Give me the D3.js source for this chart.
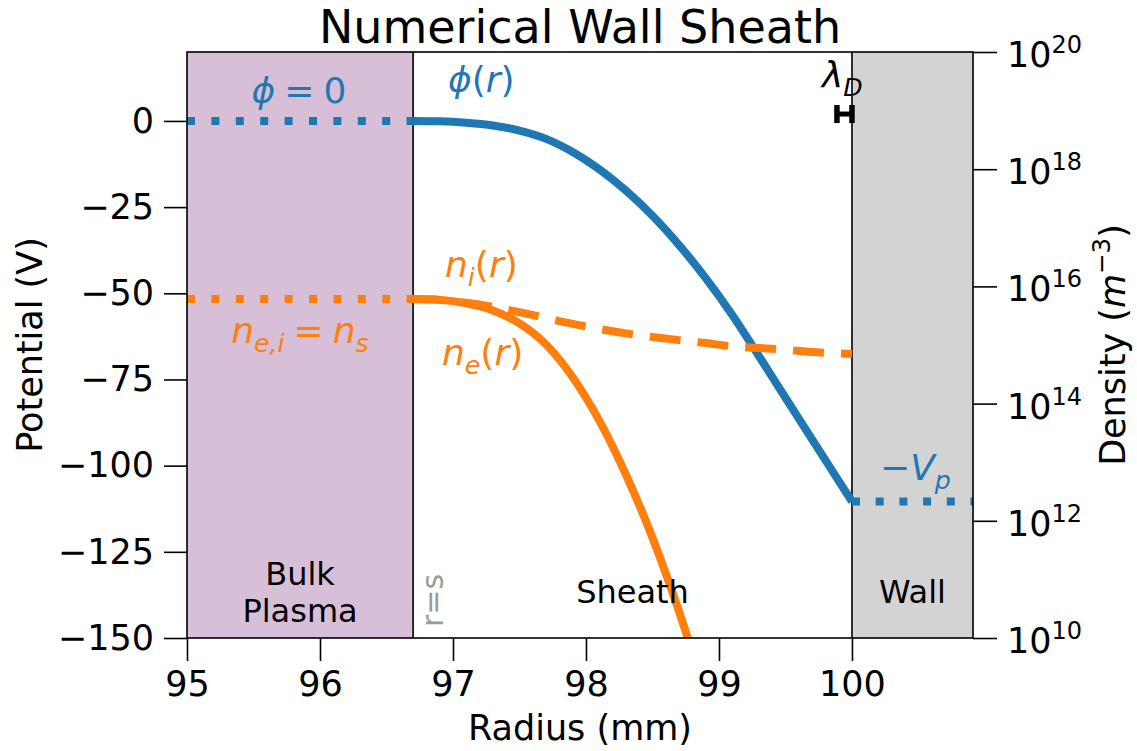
<!DOCTYPE html>
<html><head><meta charset="utf-8">
<script src="https://cdn.jsdelivr.net/npm/d3@7"></script>
<style>body{margin:0;background:#fff} text{font-family:"DejaVu Sans",sans-serif}</style>
</head><body><svg id="c" width="1137" height="751"></svg>
<script>
// ---- data ----
const radius = [96.7, 96.9, 97.1, 97.3, 97.5, 97.7, 97.9, 98.1, 98.3, 98.5, 98.7, 98.9, 99.1, 99.3, 99.5, 99.7, 99.9, 100.0];
const potential = [0, -0.1, -0.5, -1.3, -2.8, -5.2, -9.0, -14.0, -20.2, -27.5, -36.0, -45.6, -56.3, -68.2, -80.3, -92.4, -104.4, -110.4];
const ionDensity = [6.10e15, 5.89e15, 5.25e15, 4.47e15, 3.63e15, 2.88e15, 2.29e15, 1.88e15, 1.58e15, 1.37e15, 1.21e15, 1.08e15, 9.5e14, 8.9e14, 8.3e14, 7.6e14, 7.2e14, 7.0e14];
const electronDensity = [6.10e15, 5.89e15, 5.13e15, 3.89e15, 2.34e15, 1.02e15, 2.82e14, 5.13e13, 6.17e12, 5.13e11, 2.82e10, 1.07e9];
const xTicks = [95, 96, 97, 98, 99, 100];
const yTicks = [0, -25, -50, -75, -100, -125, -150];
const densityTickExponents = [10, 12, 14, 16, 18, 20];
const xDomain = [95, 100.91];
const yDomain = [-150, 20];
const densityDomain = [1e10, 1e20];
const sheathEdge = 96.7;
const wallPos = 100;
const plasmaPotential = 110.4;
const sheathDensity = 6.1e15;
const debyeBar = [99.887, 100.0];
const debyeBarLevel = 2;

// ---- layout ----
const L = 187, R = 973, T = 52, B = 638;
const blue = "#1f77b4", orange = "#ff7f0e";
const svg = d3.select("#c");
const x = d3.scaleLinear().domain(xDomain).range([L, R]);
const yL = d3.scaleLinear().domain(yDomain).range([B, T]);
const yR = d3.scaleLog().domain(densityDomain).range([B, T]);

svg.append("defs").append("clipPath").attr("id", "clip")
  .append("rect").attr("x", L).attr("y", T).attr("width", R - L).attr("height", B - T);

// regions
svg.append("rect").attr("x", x(xDomain[0])).attr("y", T).attr("width", x(sheathEdge) - x(xDomain[0])).attr("height", B - T).attr("fill", "#d8bfd8");
svg.append("rect").attr("x", x(wallPos)).attr("y", T).attr("width", x(xDomain[1]) - x(wallPos)).attr("height", B - T).attr("fill", "#d3d3d3");
[sheathEdge, wallPos].forEach(v => svg.append("line").attr("x1", x(v)).attr("x2", x(v)).attr("y1", T).attr("y2", B).attr("stroke", "#000").attr("stroke-width", 1.6));

const plot = svg.append("g").attr("clip-path", "url(#clip)");
const lineL = d3.line().x((d, i) => x(radius[i])).y(d => yL(d)).curve(d3.curveMonotoneX);
const lineR = d3.line().x((d, i) => x(radius[i])).y(d => yR(d)).curve(d3.curveMonotoneX);

plot.append("path").attr("d", lineL(potential)).attr("fill", "none").attr("stroke", blue).attr("stroke-width", 8);
plot.append("path").attr("d", lineR(ionDensity)).attr("fill", "none").attr("stroke", orange).attr("stroke-width", 8).attr("stroke-dasharray", "31,17");
plot.append("path").attr("d", lineR(electronDensity)).attr("fill", "none").attr("stroke", orange).attr("stroke-width", 8);

// dotted reference lines
plot.append("line").attr("x1", x(xDomain[0])).attr("x2", x(sheathEdge)).attr("y1", yL(0)).attr("y2", yL(0))
  .attr("stroke", blue).attr("stroke-width", 8).attr("stroke-dasharray", "8,16.4");
plot.append("line").attr("x1", x(xDomain[0])).attr("x2", x(sheathEdge)).attr("y1", yR(sheathDensity)).attr("y2", yR(sheathDensity))
  .attr("stroke", orange).attr("stroke-width", 8).attr("stroke-dasharray", "8,16.4");
plot.append("line").attr("x1", x(wallPos)).attr("x2", x(xDomain[1])).attr("y1", yL(-plasmaPotential)).attr("y2", yL(-plasmaPotential))
  .attr("stroke", blue).attr("stroke-width", 8).attr("stroke-dasharray", "8,15.7");

// Debye length error bar
const eb = svg.append("g").attr("stroke", "#000");
eb.append("line").attr("x1", x(debyeBar[0])).attr("x2", x(debyeBar[1])).attr("y1", yL(debyeBarLevel)).attr("y2", yL(debyeBarLevel)).attr("stroke-width", 5);
debyeBar.forEach(v => eb.append("line").attr("x1", x(v)).attr("x2", x(v)).attr("y1", yL(debyeBarLevel) - 9).attr("y2", yL(debyeBarLevel) + 9).attr("stroke-width", 5.5));

// spines
svg.append("rect").attr("x", L).attr("y", T).attr("width", R - L).attr("height", B - T).attr("fill", "none").attr("stroke", "#000").attr("stroke-width", 1.6);

// axes
function styleAxis(g) {
  g.select(".domain").remove();
  g.attr("font-size", 35).attr("font-family", "DejaVu Sans");
  g.selectAll(".tick line").attr("stroke-width", 1.6);
}
svg.append("g").attr("transform", `translate(${L},0)`)
  .call(d3.axisLeft(yL).tickValues(yTicks).tickSize(23).tickPadding(10).tickFormat(d => d < 0 ? "\u2212" + Math.abs(d) : String(d)))
  .call(styleAxis);
svg.append("g").attr("transform", `translate(0,${B})`)
  .call(d3.axisBottom(x).tickValues(xTicks).tickSize(23).tickPadding(10).tickFormat(d3.format("d")))
  .call(styleAxis);
svg.append("g").attr("transform", `translate(${R},0)`)
  .call(d3.axisRight(yR).tickValues(densityTickExponents.map(e => Math.pow(10, e))).tickSize(24).tickFormat(() => ""))
  .call(styleAxis);
densityTickExponents.forEach(e => {
  const t = svg.append("text").attr("x", R + 34).attr("y", yR(Math.pow(10, e)) + 15).attr("font-size", 35).attr("fill", "#000");
  t.append("tspan").text("10");
  t.append("tspan").attr("dy", -14).attr("font-size", 24).text(String(e));
});

// rich text helper: parts = [text, {i:italic, sub, sup}]
function rich(xp, yp, parts, size, color, anchor, transform) {
  const t = svg.append("text").attr("font-size", size).attr("fill", color).attr("text-anchor", anchor || "start");
  if (transform) t.attr("transform", transform); else t.attr("x", xp).attr("y", yp);
  let cur = 0;
  parts.forEach(([txt, st]) => {
    st = st || {};
    let off = 0, fs = size;
    if (st.sub) { off = 0.24 * size; fs = 0.7 * size; }
    if (st.sup) { off = -0.42 * size; fs = 0.7 * size; }
    const ts = t.append("tspan").attr("dy", off - cur).attr("font-size", fs).text(txt);
    if (st.i) ts.attr("font-style", "italic");
    cur = off;
  });
  return t;
}

// title and axis labels
svg.append("text").attr("x", (L + R) / 2).attr("y", 43).attr("text-anchor", "middle").attr("font-size", 46).text("Numerical Wall Sheath");
svg.append("text").attr("x", (L + R) / 2).attr("y", 740).attr("text-anchor", "middle").attr("font-size", 35).text("Radius (mm)");
svg.append("text").attr("transform", `translate(42,${(T + B) / 2}) rotate(-90)`).attr("text-anchor", "middle").attr("font-size", 35).text("Potential (V)");
rich(0, 0, [["Density ("], ["m", {i: true}], ["\u22123", {sup: true}], [")"]], 35, "#000", "middle", `translate(1125,${(T + B) / 2}) rotate(-90)`);

// annotations
rich(299, 103, [["\u03d5", {i: true}], ["\u2005=\u20050"]], 36, blue, "middle");
rich(448, 92, [["\u03d5", {i: true}], ["("], ["r", {i: true}], [")"]], 36, blue);
rich(445, 277, [["n", {i: true}], ["i", {i: true, sub: true}], ["("], ["r", {i: true}], [")"]], 36, orange);
rich(442, 365, [["n", {i: true}], ["e", {i: true, sub: true}], ["("], ["r", {i: true}], [")"]], 36, orange);
rich(300, 343, [["n", {i: true}], ["e,", {i: true, sub: true}], ["i", {i: true, sub: true}], ["\u2005=\u2005"], ["n", {i: true}], ["s", {i: true, sub: true}]], 36, orange, "middle");
rich(880, 480, [["\u2212"], ["V", {i: true}], ["p", {i: true, sub: true}]], 36, blue);
rich(822, 87, [["\u03bb", {i: true}], ["D", {i: true, sub: true}]], 36, "#000");

// region labels
const bp = svg.append("text").attr("text-anchor", "middle").attr("font-size", 32);
bp.append("tspan").attr("x", (x(xDomain[0]) + x(sheathEdge)) / 2).attr("y", 585).text("Bulk");
bp.append("tspan").attr("x", (x(xDomain[0]) + x(sheathEdge)) / 2).attr("y", 622).text("Plasma");
svg.append("text").attr("x", (x(sheathEdge) + x(wallPos)) / 2).attr("y", 603).attr("text-anchor", "middle").attr("font-size", 32).text("Sheath");
svg.append("text").attr("x", (x(wallPos) + x(xDomain[1])) / 2).attr("y", 603).attr("text-anchor", "middle").attr("font-size", 32).text("Wall");
svg.append("text").attr("transform", `translate(443,627) rotate(-90)`).attr("font-size", 30).attr("fill", "#9a9a9a").text("r=s");
</script></body></html>
